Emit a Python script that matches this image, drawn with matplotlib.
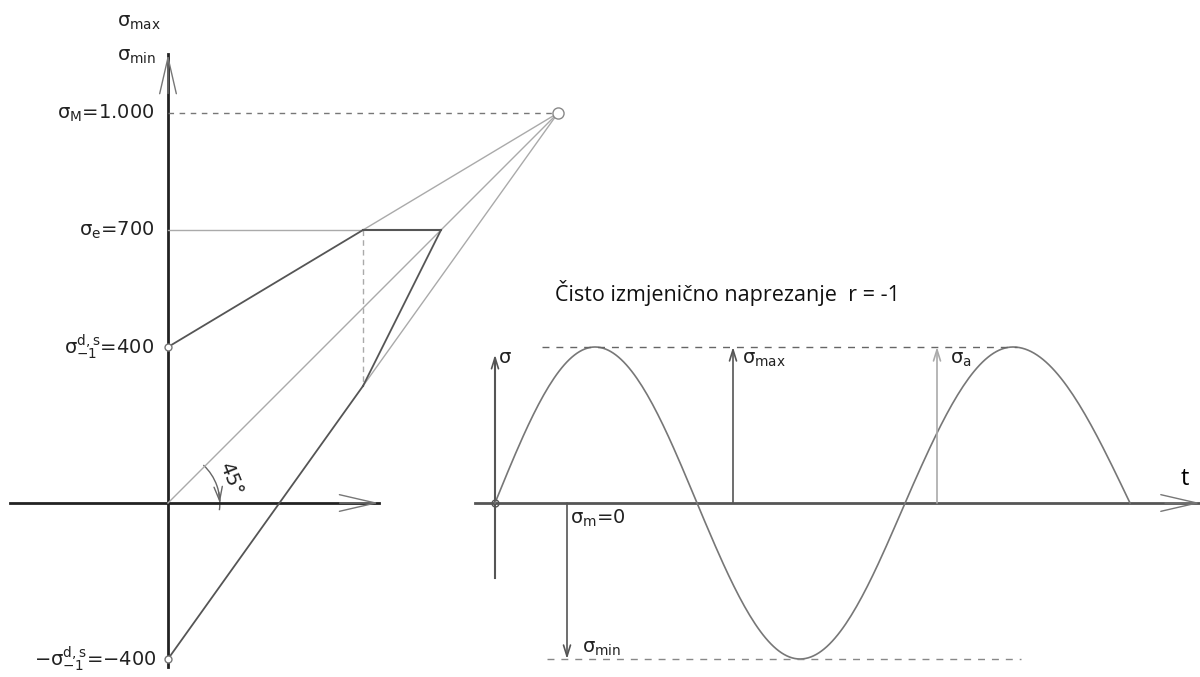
import numpy as np
import matplotlib.pyplot as plt
from matplotlib.patches import Arc

# Smith diagram data (MPa)
sigma_M = 1000      # tensile strength
sigma_e = 700       # yield strength
sigma_w = 400       # fatigue strength, sigma_-1^{d,s}

# sine signal, key points (t in arbitrary units)
t_keys = [0.0, 1.00, 2.02, 3.05, 4.10, 5.18, 6.35]
s_keys = [0, 400, 0, -400, 0, 400, 0]

# layout (pixels of the 1200x677 picture)
W, H = 1200, 677
K = 0.39            # px per MPa
OX, OY = 168, 503   # origin of the Smith diagram
TX = 495            # t = 0 of the signal
TK = 100            # px per time unit

fig = plt.figure(figsize=(12, 6.77), dpi=100)
ax = fig.add_axes([0, 0, 1, 1])
ax.set_xlim(-OX / K, (W - OX) / K)
ax.set_ylim(-(H - OY) / K, OY / K)
ax.axis('off')

ax2 = fig.add_axes([0, 0, 1, 1])
ax2.set_xlim(-TX / TK, (W - TX) / TK)
ax2.set_ylim(ax.get_ylim())
ax2.patch.set_alpha(0)
ax2.axis('off')

dark = '#222222'
mid = '#555555'
light = '#aaaaaa'

def open_arrow(a, start, tip, color, lw, hl=2.6, hw=0.6):
    a.annotate('', xy=tip, xytext=start,
               arrowprops=dict(arrowstyle='->,head_length=%s,head_width=%s' % (hl, hw),
                               color=color, lw=lw, shrinkA=0, shrinkB=0))

# ---------------- Smith diagram ----------------
# axes
ax.plot([-405, 540], [0, 0], color=dark, lw=2)
ax.plot([0, 0], [-420, 1150], color=dark, lw=2)
open_arrow(ax, (440, 0), (540, 0), '#777777', 1.0)
open_arrow(ax, (0, 1050), (0, 1150), '#777777', 1.0)

# construction points
x_e = (sigma_e - sigma_w) * sigma_M / (sigma_M - sigma_w)   # upper line hits sigma_e
slope_low = (sigma_M + sigma_w) / sigma_M
y_low = -sigma_w + slope_low * x_e

# thin construction lines
ax.plot([0, sigma_M], [0, sigma_M], color=light, lw=1)
ax.plot([x_e, sigma_M], [sigma_e, sigma_M], color=light, lw=1)
ax.plot([x_e, sigma_M], [y_low, sigma_M], color=light, lw=1)
ax.plot([0, x_e], [sigma_e, sigma_e], color=light, lw=1)
ax.plot([0, sigma_M], [sigma_M, sigma_M], color='#777777', lw=1, dashes=(4, 4))
ax.plot([x_e, x_e], [sigma_e, y_low], color=light, lw=1, dashes=(4, 3))

# diagram boundary
ax.plot([0, x_e], [sigma_w, sigma_e], color=mid, lw=1.3)
ax.plot([x_e, sigma_e], [sigma_e, sigma_e], color=mid, lw=1.5)
ax.plot([sigma_e, x_e], [sigma_e, y_low], color=mid, lw=1.3)
ax.plot([0, x_e], [-sigma_w, y_low], color=mid, lw=1.3)

ax.plot([sigma_M], [sigma_M], 'o', ms=8, mfc='white', mec='#888888', mew=1)
ax.plot([0, 0], [sigma_w, -sigma_w], 'o', ms=5, mfc='white', mec='#777777', mew=1)

# 45 degree mark
ax.add_patch(Arc((0, 0), 266, 266, theta1=-8, theta2=47, color='#666666', lw=1))
open_arrow(ax, (133 * np.cos(np.radians(12)), 133 * np.sin(np.radians(12))),
           (133, 0), '#666666', 1.0, hl=1.0, hw=0.3)
ax.text(160, 62, '45°', rotation=-68, ha='center', va='center', fontsize=14, color=dark)

# labels
fs = 14
ax.text(-131, 1231, 'σ$_{\\rm max}$', ha='left', va='center', fontsize=fs, color=dark)
ax.text(-131, 1144, 'σ$_{\\rm min}$', ha='left', va='center', fontsize=fs, color=dark)
ax.text(-35, sigma_M, 'σ$_{\\rm M}$=1.000', ha='right', va='center', fontsize=fs, color=dark)
ax.text(-35, sigma_e, 'σ$_{\\rm e}$=%d' % sigma_e, ha='right', va='center', fontsize=fs, color=dark)
ax.text(-35, sigma_w, 'σ$_{-1}^{\\rm d,s}$=%d' % sigma_w, ha='right', va='center', fontsize=fs, color=dark)
ax.text(-28, -sigma_w, '\u2212σ$_{-1}^{\\rm d,s}$=\u2212%d' % sigma_w, ha='right', va='center',
        fontsize=fs, color=dark)

# ---------------- stress signal ----------------
ax2.plot([-0.2, 7.05], [0, 0], color=mid, lw=2)
open_arrow(ax2, (6.7, 0), (7.05, 0), '#777777', 1.0)
ax2.plot([0, 0], [-192, 370], color=mid, lw=1.5)
open_arrow(ax2, (0, 330), (0, 380), mid, 1.2, hl=0.8, hw=0.25)

tt, ss = [], []
for i in range(len(t_keys) - 1):
    u = np.linspace(0, 1, 40)
    t = t_keys[i] + (t_keys[i + 1] - t_keys[i]) * u
    if s_keys[i] == 0:
        s = s_keys[i + 1] * np.sin(u * np.pi / 2)
    else:
        s = s_keys[i] * np.cos(u * np.pi / 2)
    tt.extend(t)
    ss.extend(s)
ax2.plot(tt, ss, color='#777777', lw=1.2)
ax2.plot([0], [0], 'o', ms=5, mfc='none', mec=mid, mew=1)

amp = max(s_keys)
ax2.plot([0.47, 5.22], [amp, amp], color='#666666', lw=1, dashes=(5, 5))
ax2.plot([0.52, 5.26], [-amp, -amp], color='#888888', lw=1, dashes=(5, 5))

open_arrow(ax2, (2.38, 0), (2.38, amp), mid, 1.2, hl=0.8, hw=0.25)
open_arrow(ax2, (4.42, 0), (4.42, amp), light, 1.2, hl=0.8, hw=0.25)
open_arrow(ax2, (0.72, 0), (0.72, -amp), mid, 1.2, hl=0.8, hw=0.25)

ax2.text(0.6, 538, 'Čisto izmjenično naprezanje  r = -1', ha='left', va='center',
         fontsize=15.5, family=['Open Sans', 'DejaVu Sans'], color='#111111')
ax2.text(6.9, 61, 't', ha='center', va='center', fontsize=17, family=['Open Sans', 'DejaVu Sans'])
ax2.text(0.04, 374, 'σ', ha='left', va='center', fontsize=fs, color=dark)
ax2.text(2.47, 367, 'σ$_{\\rm max}$', ha='left', va='center', fontsize=fs, color=dark)
ax2.text(4.55, 367, 'σ$_{\\rm a}$', ha='left', va='center', fontsize=fs, color=dark)
ax2.text(0.87, -372, 'σ$_{\\rm min}$', ha='left', va='center', fontsize=fs, color=dark)
ax2.text(0.75, -40, 'σ$_{\\rm m}$=0', ha='left', va='center', fontsize=fs, color=dark)

fig.savefig('out.png', dpi=100, facecolor='white')
